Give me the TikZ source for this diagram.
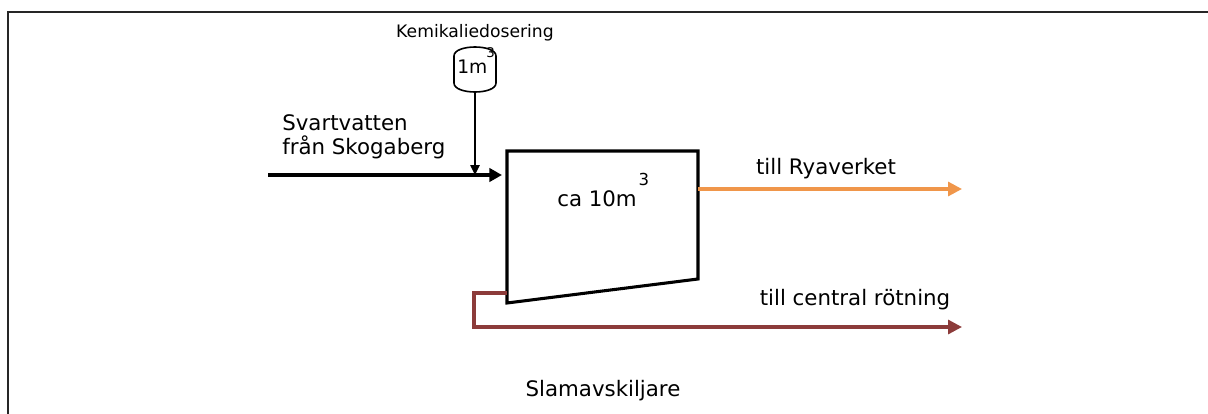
\documentclass[tikz,border=0pt]{standalone}
\usepackage{fontspec}
\setmainfont{DejaVu Sans}
\usetikzlibrary{arrows.meta}

\definecolor{ryaorange}{HTML}{F0964A}
\definecolor{slambrun}{HTML}{8C3B3A}

\tikzset{
  label/.style={inner sep=0pt, font=\fontsize{16}{18}\selectfont},
  small/.style={inner sep=0pt, font=\fontsize{12.9}{15}\selectfont},
  flow/.style={line width=2.4pt, -{Triangle[length=10.5pt,width=10.5pt]}},
  dose/.style={line width=1.1pt, -{Triangle[length=7.5pt,width=7pt]}},
}

\begin{document}
\begin{tikzpicture}[x=0.75pt, y=-0.75pt]
  \useasboundingbox (0,0) rectangle (1208,414);
  % frame
  \draw[line width=1.5pt, black!85] (8,414) -- (8,12) -- (1208,12);

  % dosing drum
  \draw[line width=1.2pt] (454,56) .. controls (454,44) and (496,44) .. (496,56)
    -- (496,83) .. controls (496,95) and (454,95) .. (454,83) -- cycle;
  \coordinate (drumbot) at (475,92);
  \node[small, anchor=base] (chem) at (475,37) {Kemikaliedosering};
  \node[inner sep=0pt, anchor=base west, font=\fontsize{14}{16}\selectfont] (drum) at (457,73)
    {1m\hspace{-0.8pt}\raisebox{11.5pt}{\fontsize{10}{11}\selectfont 3}};

  % separator tank
  \coordinate (tl) at (507,151);
  \coordinate (tr) at (698,151);
  \coordinate (br) at (698,279);
  \coordinate (bl) at (507,303);
  \draw[line width=2.3pt, line join=miter] (tl) -- (tr) -- (br) -- (bl) -- cycle;
  \node[label, anchor=base west] (vol) at (557,206)
    {ca 10m\hspace{1.3pt}\raisebox{15.75pt}{\fontsize{12.4}{14}\selectfont 3}};

  % inflow
  \coordinate (src) at (268,175);
  \coordinate (inlet) at (502,175);
  \coordinate (mix) at (475,175);
  \node[label, anchor=north west, align=left] (svart) at (282,114)
    {Svartvatten\\från Skogaberg};
  \draw[flow, line width=2.5pt, -{Triangle[length=9.5pt,width=10pt]}] (src) -- (inlet);
  \draw[dose] (drumbot) -- (mix);

  % outflow to Ryaverket
  \coordinate (over) at (698,189);
  \coordinate (rya) at (962,189);
  \draw[flow, ryaorange] (over) -- (rya);
  \node[label, anchor=base] (ryatxt) at (826,174) {till Ryaverket};

  % sludge to digestion
  \coordinate (slam) at (507,293);
  \coordinate (rot) at (962,327);
  \draw[flow, slambrun] (slam) -- (474,293) |- (rot);
  \node[label, anchor=base] (rottxt) at (855,305) {till central rötning};

  \node[label, anchor=base] (title) at (603,396) {Slamavskiljare};
\end{tikzpicture}
\end{document}
